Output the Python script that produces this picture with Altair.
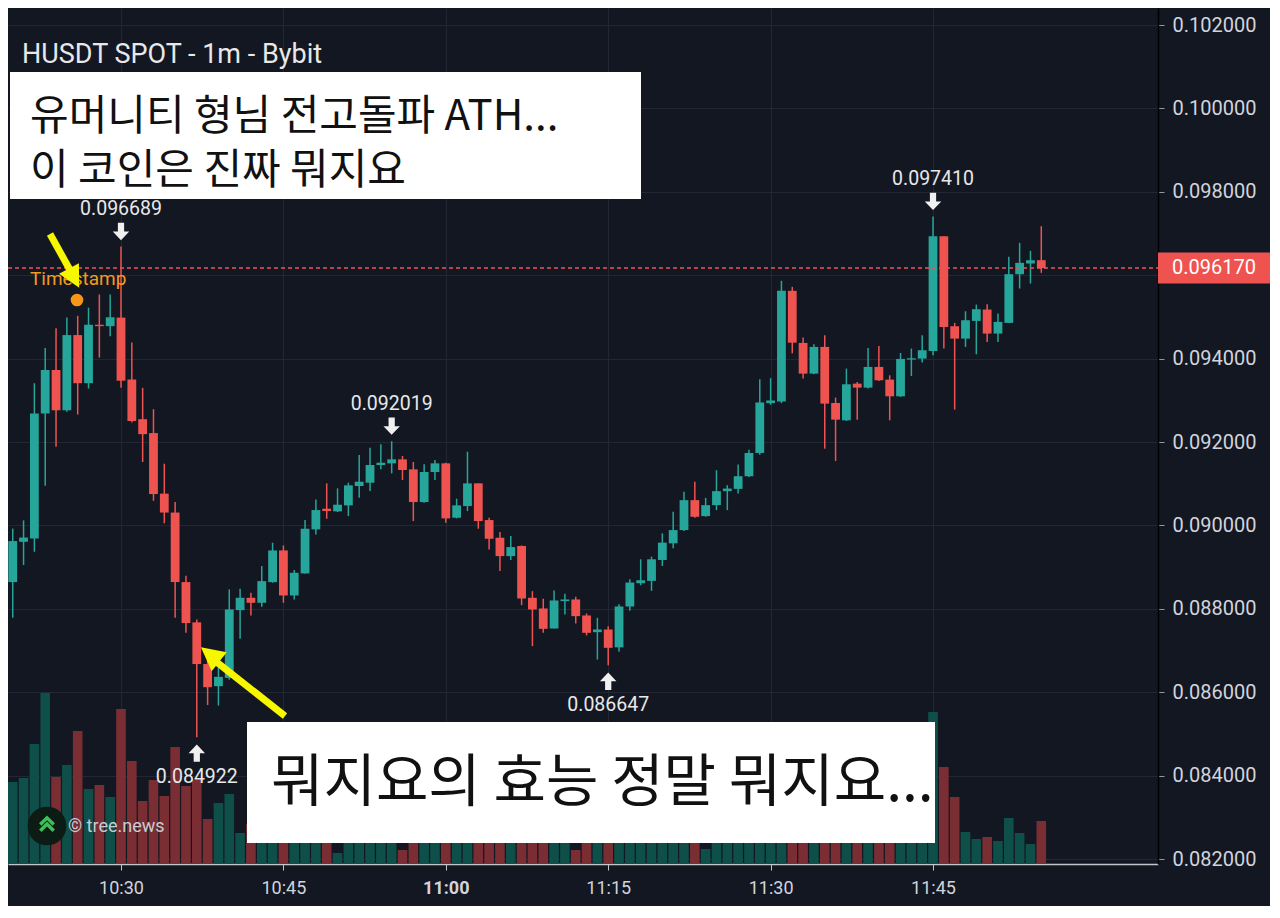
import altair as alt
import pandas as pd

# ---------------- data ----------------
START_MINUTE = 10 * 60 + 20  # first candle at 10:20, 1-minute candles

opens = [0.088641, 0.089607, 0.089684, 0.092684, 0.093726, 0.092761, 0.094564, 0.093410, 0.094812, 0.094778,
         0.094983, 0.093496, 0.092547, 0.092214, 0.090761, 0.090308, 0.088641, 0.087675, 0.086675, 0.086144,
         0.086344, 0.087968, 0.088264, 0.088144, 0.088640, 0.089400, 0.088320, 0.088848, 0.089904, 0.090400,
         0.090336, 0.090480, 0.090944, 0.091024, 0.091448, 0.091488, 0.091584, 0.091344, 0.090560, 0.091280,
         0.091488, 0.090184, 0.090464, 0.091008, 0.090128, 0.089704, 0.089264, 0.089504, 0.088264, 0.088008,
         0.087528, 0.088184, 0.088224, 0.087840, 0.087440, 0.087504, 0.087076, 0.088056, 0.088614, 0.088669,
         0.089171, 0.089570, 0.089888, 0.090606, 0.090223, 0.090486, 0.090821, 0.090876, 0.091179, 0.091737,
         0.092932, 0.092972, 0.095625, 0.094376, 0.093640, 0.094280, 0.092936, 0.092520, 0.093400, 0.093304,
         0.093800, 0.093496, 0.093096, 0.093976, 0.094000, 0.094184, 0.096936, 0.094776, 0.094480, 0.094904,
         0.095176, 0.094600, 0.094856, 0.096024, 0.096280, 0.096360]
highs = [0.089923, 0.090120, 0.093410, 0.094256, 0.094726, 0.094983, 0.095026, 0.095222, 0.095538, 0.095538,
         0.096689, 0.094385, 0.093299, 0.092786, 0.091479, 0.090564, 0.088795, 0.087744, 0.086761, 0.086584,
         0.088464, 0.088480, 0.088384, 0.089024, 0.089584, 0.089520, 0.088928, 0.090128, 0.090624, 0.091008,
         0.090888, 0.091024, 0.091688, 0.091864, 0.091944, 0.092019, 0.091664, 0.091520, 0.091464, 0.091568,
         0.091504, 0.090640, 0.091768, 0.091008, 0.090184, 0.089840, 0.089744, 0.089520, 0.088424, 0.088240,
         0.088440, 0.088360, 0.088288, 0.087888, 0.087784, 0.087584, 0.088112, 0.088709, 0.089187, 0.089251,
         0.089809, 0.090327, 0.090805, 0.091044, 0.090661, 0.091323, 0.090964, 0.091458, 0.091817, 0.093506,
         0.093530, 0.095865, 0.095721, 0.094504, 0.094344, 0.094560, 0.093064, 0.093760, 0.093440, 0.094256,
         0.094304, 0.093600, 0.094136, 0.094240, 0.094560, 0.097410, 0.096936, 0.094856, 0.095136, 0.095296,
         0.095304, 0.095080, 0.096440, 0.096776, 0.096584, 0.097176]
lows = [0.087786, 0.089051, 0.089368, 0.090949, 0.091889, 0.092726, 0.092658, 0.093282, 0.094026, 0.094538,
        0.093299, 0.092470, 0.091521, 0.090590, 0.090051, 0.087786, 0.087427, 0.084922, 0.085692, 0.085680,
        0.086300, 0.087280, 0.087840, 0.088048, 0.088624, 0.088144, 0.088224, 0.088848, 0.089784, 0.090160,
        0.090320, 0.090224, 0.090664, 0.090824, 0.091344, 0.091248, 0.091088, 0.090104, 0.090544, 0.091088,
        0.090064, 0.090168, 0.090344, 0.089920, 0.089424, 0.088904, 0.089168, 0.088088, 0.087104, 0.087424,
        0.087528, 0.087864, 0.087648, 0.087360, 0.086784, 0.086647, 0.086972, 0.087952, 0.088566, 0.088430,
        0.089028, 0.089450, 0.089865, 0.090183, 0.090207, 0.090367, 0.090367, 0.090765, 0.091163, 0.091697,
        0.092892, 0.092932, 0.094127, 0.093520, 0.093624, 0.091840, 0.091544, 0.092504, 0.092536, 0.093280,
        0.093464, 0.092520, 0.093080, 0.093584, 0.093904, 0.094080, 0.094240, 0.092776, 0.094280, 0.094104,
        0.094400, 0.094400, 0.094856, 0.095680, 0.095800, 0.096056]
closes = [0.089624, 0.089709, 0.092684, 0.093726, 0.092761, 0.094564, 0.093410, 0.094812, 0.094778, 0.094991,
          0.093470, 0.092504, 0.092188, 0.090752, 0.090308, 0.088641, 0.087658, 0.086675, 0.086120, 0.086368,
          0.087984, 0.088264, 0.088144, 0.088664, 0.089400, 0.088320, 0.088864, 0.089920, 0.090368, 0.090344,
          0.090496, 0.090960, 0.091048, 0.091448, 0.091504, 0.091584, 0.091328, 0.090560, 0.091280, 0.091488,
          0.090168, 0.090480, 0.091008, 0.090104, 0.089680, 0.089264, 0.089480, 0.088248, 0.087984, 0.087520,
          0.088200, 0.088224, 0.087824, 0.087424, 0.087504, 0.087064, 0.088056, 0.088629, 0.088685, 0.089187,
          0.089586, 0.089888, 0.090606, 0.090207, 0.090486, 0.090821, 0.090884, 0.091179, 0.091737, 0.092948,
          0.092996, 0.095625, 0.094382, 0.093640, 0.094280, 0.092920, 0.092536, 0.093384, 0.093304, 0.093800,
          0.093480, 0.093096, 0.093992, 0.094008, 0.094200, 0.096936, 0.094760, 0.094480, 0.094920, 0.095184,
          0.094600, 0.094880, 0.096024, 0.096296, 0.096360, 0.096170]
volumes = [82, 86, 120, 171, 87, 99, 133, 75, 79, 67,
           155, 103, 63, 84, 68, 117, 78, 84, 45, 61,
           70, 31, 40, 45, 60, 55, 35, 70, 50, 30,
           11, 40, 28, 45, 25, 35, 14, 50, 40, 22,
           60, 25, 45, 55, 40, 38, 24, 65, 45, 35,
           40, 22, 14, 25, 30, 45, 55, 40, 24, 35,
           30, 28, 45, 30, 15, 25, 22, 26, 35, 60,
           30, 110, 75, 45, 30, 70, 50, 40, 25, 35,
           30, 40, 35, 22, 26, 152, 97, 67, 32, 25,
           27, 23, 46, 31, 20, 43]

LAST_PRICE = 0.096170
PRICE_TICKS = [0.082, 0.084, 0.086, 0.088, 0.090, 0.092, 0.094, 0.096, 0.098, 0.100, 0.102]
TIME_TICKS = [630, 645, 660, 675, 690, 705]   # 10:30 ... 11:45
HIGH_IDX = [10, 35, 85]
LOW_IDX = [17, 55]

TITLE = "HUSDT SPOT - 1m - Bybit"
BOX1_LINES = ["유머니티 형님 전고돌파 ATH...", "이 코인은 진짜 뭐지요"]
BOX2_TEXT = "뭐지요의 효능 정말 뭐지요..."
TIMESTAMP_TEXT = "Timestamp"
BRAND_TEXT = "© tree.news"

# ---------------- styles ----------------
BG = "#131722"
GRID = "#232733"
TEAL = "#26a69a"
RED = "#ef5350"
VTEAL = "#0e4f49"
VRED = "#7a2e34"
TXT = "#d1d4dc"
YELLOW = "#f7f700"
ORANGE = "#f29a1f"
FONT = "Roboto"
KFONT = "Noto Sans CJK KR"

W, H = 1150, 856
PX_PER_UNIT = 41700.0
Y_LO = 0.082 - 5 / PX_PER_UNIT
Y_HI = 0.102 + 17 / PX_PER_UNIT
X_LO = START_MINUTE - 0.437
X_HI = START_MINUTE + 105.78

n = len(opens)
df = pd.DataFrame({
    "t": [START_MINUTE + i for i in range(n)],
    "open": opens, "high": highs, "low": lows, "close": closes, "volume": volumes,
})

xscale = alt.Scale(domain=[X_LO, X_HI], nice=False, zero=False, padding=0)
yscale = alt.Scale(domain=[Y_LO, Y_HI], nice=False, zero=False, padding=0)

xaxis = alt.Axis(
    values=TIME_TICKS, title=None, grid=True, gridColor=GRID, gridWidth=1,
    domainColor="#c4c6cc", domainWidth=1.5, tickColor="#c4c6cc", tickSize=6,
    labelColor=TXT, labelFont=FONT, labelFontSize=18, labelPadding=9,
    labelExpr="floor(datum.value/60) + ':' + (datum.value % 60 < 10 ? '0' : '') + (datum.value % 60)",
    labelFontWeight=alt.condition("datum.value == 660", alt.value("bold"), alt.value("normal")),
)
yaxis = alt.Axis(
    values=PRICE_TICKS, orient="right", title=None, grid=True, gridColor=GRID, gridWidth=1,
    domainColor="#000000", domainWidth=1.5, tickColor="#9598a1", tickSize=6,
    labelColor=TXT, labelFont=FONT, labelFontSize=20, labelPadding=8,
    labelExpr="abs(datum.value - 0.096) < 1e-9 ? '' : format(datum.value, '.6f')",
)

up_cond = "datum.close >= datum.open"
base = alt.Chart(df).encode(x=alt.X("t:Q", scale=xscale, axis=xaxis))

vol = base.mark_bar(size=9.6).encode(
    y=alt.Y("volume:Q", scale=alt.Scale(domain=[0, H], nice=False, padding=0), axis=None),
    color=alt.condition(up_cond, alt.value(VTEAL), alt.value(VRED)),
)

wick = base.mark_rule(strokeWidth=1.5).encode(
    y=alt.Y("low:Q", scale=yscale, axis=yaxis),
    y2="high:Q",
    color=alt.condition(up_cond, alt.value(TEAL), alt.value(RED)),
)
body = base.mark_bar(size=8.8).encode(
    y=alt.Y("open:Q", scale=yscale, axis=yaxis),
    y2="close:Q",
    color=alt.condition(up_cond, alt.value(TEAL), alt.value(RED)),
)

hi_df = pd.DataFrame({"t": [START_MINUTE + i for i in HIGH_IDX], "p": [highs[i] for i in HIGH_IDX]})
hi_df["label"] = [f"{v:.6f}" for v in hi_df["p"]]
lo_df = pd.DataFrame({"t": [START_MINUTE + i for i in LOW_IDX], "p": [lows[i] for i in LOW_IDX]})
lo_df["label"] = [f"{v:.6f}" for v in lo_df["p"]]

DOWN_ARROW = "M -0.36 -1 L 0.36 -1 L 0.36 0 L 0.95 0 L 0 1 L -0.95 0 L -0.36 0 Z"
UP_ARROW = "M -0.36 1 L 0.36 1 L 0.36 0 L 0.95 0 L 0 -1 L -0.95 0 L -0.36 0 Z"

hi_arrow = alt.Chart(hi_df).mark_point(shape=DOWN_ARROW, filled=True, size=300, color="#f0f0f0",
                                       opacity=1, yOffset=-15).encode(
    x=alt.X("t:Q", scale=xscale), y=alt.Y("p:Q", scale=yscale))
hi_text = alt.Chart(hi_df).mark_text(dy=-37, color="#e8e8e8", font=FONT, fontSize=19.5,
                                     baseline="middle").encode(
    x=alt.X("t:Q", scale=xscale), y=alt.Y("p:Q", scale=yscale), text="label:N")
lo_arrow = alt.Chart(lo_df).mark_point(shape=UP_ARROW, filled=True, size=300, color="#f0f0f0",
                                       opacity=1, yOffset=16).encode(
    x=alt.X("t:Q", scale=xscale), y=alt.Y("p:Q", scale=yscale))
lo_text = alt.Chart(lo_df).mark_text(dy=40, color="#e8e8e8", font=FONT, fontSize=19.5,
                                     baseline="middle").encode(
    x=alt.X("t:Q", scale=xscale), y=alt.Y("p:Q", scale=yscale), text="label:N")

one = pd.DataFrame({"k": [0]})
last_line = alt.Chart(one).mark_rule(color=RED, strokeDash=[4, 3], strokeWidth=1.5).encode(
    y=alt.Y(datum=LAST_PRICE, scale=yscale), x=alt.value(0), x2=alt.value(W))
last_box = alt.Chart(one).mark_rule(color=RED, strokeWidth=31).encode(
    y=alt.Y(datum=LAST_PRICE, scale=yscale), x=alt.value(W), x2=alt.value(W + 112))
last_text = alt.Chart(one).mark_text(align="left", baseline="middle", color="#ffffff", font=FONT,
                                     fontSize=20).encode(
    y=alt.Y(datum=LAST_PRICE, scale=yscale), x=alt.value(W + 14), text=alt.value(f"{LAST_PRICE:.6f}"))

price_layer = alt.layer(wick, body, last_line, hi_arrow, hi_text, lo_arrow, lo_text, last_box, last_text)

# ---------------- overlay decorations (pixel positions) ----------------
def box(x1, y1, x2, y2):
    return alt.Chart(one).mark_rect(color="#ffffff").encode(
        x=alt.value(x1), x2=alt.value(x2), y=alt.value(y1), y2=alt.value(y2))

def label(text, x, y, size, color, font, align="left", weight="normal"):
    return alt.Chart(one).mark_text(align=align, baseline="middle", fontSize=size, color=color,
                                    font=font, fontWeight=weight).encode(
        x=alt.value(x), y=alt.value(y), text=alt.value(text))

def shaft(x1, y1, x2, y2):
    return alt.Chart(one).mark_rule(color=YELLOW, strokeWidth=7).encode(
        x=alt.value(x1), y=alt.value(y1), x2=alt.value(x2), y2=alt.value(y2))

ARROW_HEAD = "M 0 -1 L 0.85 0.65 L -0.85 0.65 Z"

def head(x, y, angle, size):
    return alt.Chart(one).mark_point(shape=ARROW_HEAD, filled=True, color=YELLOW, opacity=1,
                                     size=size, angle=angle).encode(x=alt.value(x), y=alt.value(y))

title = label(TITLE, 14, 47, 27, "#e8e8e8", FONT)
box1 = box(2, 64, 633, 191)
box1_l1 = label(BOX1_LINES[0], 22, 109, 42, "#111111", KFONT)
box1_l2 = label(BOX1_LINES[1], 22, 163, 42, "#111111", KFONT)
box2 = box(239, 714, 927, 835)
box2_t = label(BOX2_TEXT, 263, 776, 57, "#111111", KFONT)

ts_text = label(TIMESTAMP_TEXT, 22, 271, 19, ORANGE, FONT)
ts_dot = alt.Chart(one).mark_point(shape="circle", filled=True, color="#f5961a", opacity=1,
                                   size=160).encode(x=alt.value(69), y=alt.value(292))

arrow1 = alt.layer(shaft(42, 226, 62, 262), head(65, 268, 152, 700))
arrow2 = alt.layer(shaft(277, 708, 206, 652), head(204, 648, 308.7, 800))

logo_c = alt.Chart(one).mark_point(shape="circle", filled=True, color="#0c1c14", opacity=1,
                                   size=1500).encode(x=alt.value(39), y=alt.value(818))
CHEVRONS = "M -0.6 0.05 L 0 -0.55 L 0.6 0.05 M -0.6 0.6 L 0 0 L 0.6 0.6"
logo_s = alt.Chart(one).mark_point(shape=CHEVRONS, filled=False, color="#3fbf5a", opacity=1,
                                   strokeWidth=3.5, size=500).encode(x=alt.value(39), y=alt.value(816))
brand = label(BRAND_TEXT, 60, 819, 18, "#c8cbd2", FONT)

chart = alt.layer(
    vol, price_layer,
    ts_text, ts_dot, arrow1,
    box1, box1_l1, box1_l2, box2, box2_t, arrow2,
    logo_c, logo_s, brand, title,
).resolve_scale(y="independent").properties(
    width=W, height=H,
    autosize=alt.AutoSizeParams(type="none"),
    padding={"left": 0, "top": 0, "right": 112, "bottom": 42},
    background=BG,
).configure_view(strokeWidth=0)

chart.save("out.html", embed_options={"renderer": "svg", "actions": False})
